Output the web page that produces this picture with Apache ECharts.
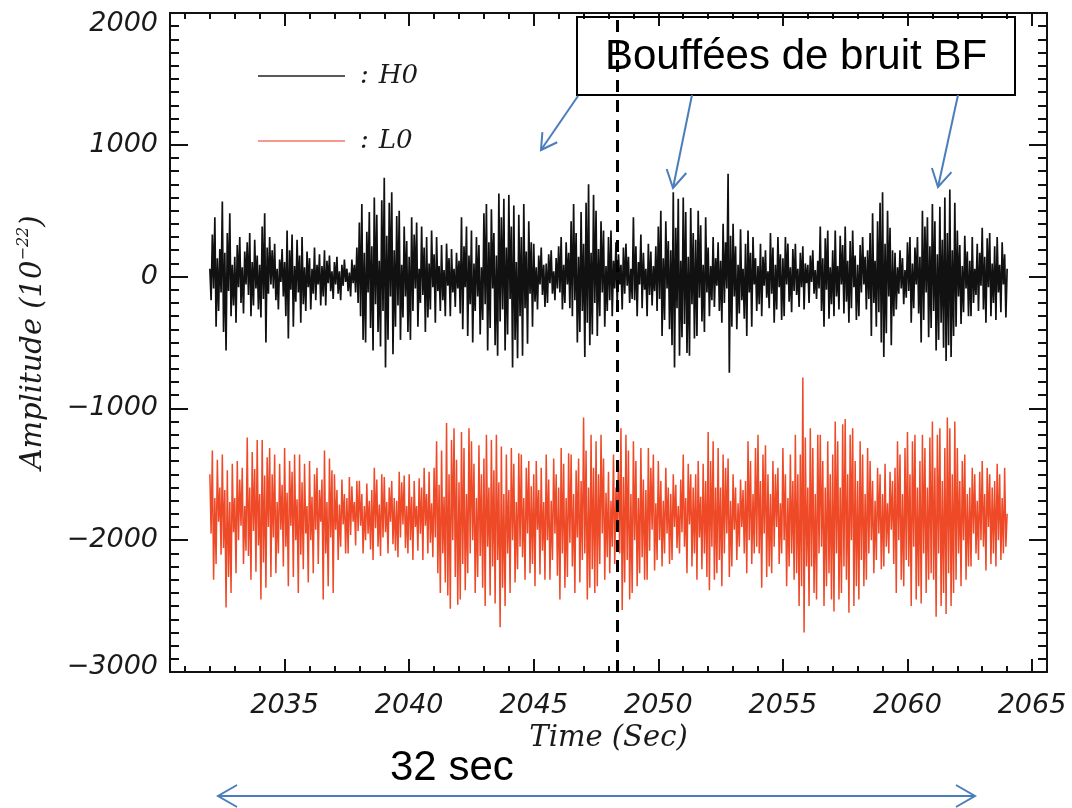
<!DOCTYPE html>
<html>
<head>
<meta charset="utf-8">
<script src="https://cdn.jsdelivr.net/npm/echarts@6/dist/echarts.min.js"></script>
<style>
  html, body { margin: 0; padding: 0; background: #fff; }
  #chart { width: 1072px; height: 808px; }
</style>
</head>
<body>
<div id="chart"></div>
<script>
// Sampling grid of both strain channels (seconds)
const T_START = 2032.0;
const DT = 0.05;

// H0 channel, amplitude in units of 1e-22, one line per second
const H0 = [
  60,-180,320,-90,450,-380,140,-260,210,-120, 570,-420,180,-560,330,-110,480,-300,90,-220,
  150,-350,240,-80,300,-200,70,-280,190,-60, 260,-140,330,-300,110,-220,280,-90,160,-250,
  90,-310,380,-170,480,-500,220,-130,300,-60, 200,-90,250,-180,60,-250,130,-40,210,-150,
  110,-300,350,-470,200,-100,320,-380,80,-190, 280,-120,160,-350,300,-210,70,-260,190,-80,
  140,-250,60,-130,220,-180,90,-60,170,-220, 80,-150,200,-220,120,-50,160,-110,40,-170,
  110,-60,150,-130,40,-180,90,-70,130,-40, 60,-110,30,-150,130,-50,90,-120,220,-200,
  410,-300,550,-480,180,-500,340,-120,490,-390, 230,-560,600,-210,470,-420,120,-530,580,-260,
  750,-690,310,-480,560,-150,640,-590,200,-380, 460,-220,500,-480,90,-310,380,-150,270,-420,
  150,-480,450,-260,320,-90,410,-380,60,-200, 380,-140,220,-420,300,-310,100,-250,350,-80,
  170,-350,300,-110,80,-260,240,-180,50,-300, 250,-70,140,-300,210,-120,60,-230,180,-90,
  120,-280,450,-400,230,-80,380,-450,160,-210, 350,-500,100,-260,300,-150,240,-440,70,-330,
  480,-210,550,-560,260,-390,510,-90,330,-520, 160,-600,630,-340,450,-250,590,-560,220,-440,
  620,-170,380,-690,540,-480,110,-620,470,-300, 300,-600,550,-240,190,-510,420,-130,260,-380,
  250,-190,70,-250,160,-60,220,-140,90,-230, 100,-200,170,-50,200,-130,40,-180,140,-90,
  230,-120,300,-250,90,-200,260,-60,180,-240, 420,-300,550,-180,330,-500,150,-420,490,-260,
  250,-610,560,-350,700,-520,180,-440,620,-200, 500,-450,210,-300,420,-120,350,-380,80,-260,
  300,-180,350,-300,120,-90,260,-220,170,-60, 90,-250,220,-130,250,-70,150,-200,60,-170,
  450,-180,230,-300,110,-60,320,-240,180,-100, 60,-300,250,-140,190,-220,80,-110,230,-260,
  380,-170,500,-450,140,-330,420,-90,270,-400, 200,-520,640,-690,370,-240,590,-600,120,-460,
  600,-360,490,-580,150,-600,520,-210,330,-470, 280,-450,500,-160,390,-340,90,-420,450,-120,
  220,-300,80,-180,300,-230,140,-70,260,-260, 120,-350,400,-200,260,-90,780,-730,310,-380,
  400,-150,230,-400,90,-280,360,-180,60,-320, 250,-450,350,-120,180,-380,300,-60,140,-260,
  80,-210,250,-300,150,-70,200,-160,40,-240, 330,-130,220,-350,90,-250,300,-80,170,-330,
  140,-300,300,-60,250,-190,70,-270,210,-110, 250,-140,60,-230,180,-80,230,-250,100,-50,
  90,-200,160,-40,200,-130,50,-170,120,-90, 380,-260,140,-380,290,-100,350,-320,70,-210,
  200,-300,350,-150,80,-250,310,-60,240,-280, 380,-190,120,-350,270,-240,350,-80,160,-330,
  90,-300,240,-120,300,-60,150,-250,200,-170, 330,-450,480,-200,120,-380,420,-270,560,-500,
  640,-610,250,-430,500,-150,370,-520,200,-300, 180,-250,70,-130,200,-90,140,-210,50,-160,
  260,-110,300,-350,100,-240,220,-60,300,-280, 150,-500,500,-330,380,-120,450,-460,230,-390,
  550,-260,420,-560,170,-480,530,-350,280,-540, 600,-640,330,-520,660,-610,200,-450,560,-380,
  350,-150,240,-360,80,-270,310,-90,190,-300, 120,-300,300,-200,60,-140,250,-260,180,-70,
  370,-250,150,-350,290,-80,330,-300,100,-200, 230,-330,300,-120,90,-270,260,-60,170,-310,
  60
];

// L0 channel, plotted shifted down around -1800, one line per second
const L0 = [
  -1500,-1950,-1320,-2300,-1680,-2180,-1390,-1860,-1600,-2110, -1350,-2060,-1620,-2510,-1470,-2280,-1710,-2400,-1420,-1940,
  -1680,-2250,-1400,-2000,-1540,-1890,-1450,-2180,-1740,-2080, -1220,-2120,-1600,-2300,-1330,-1930,-1460,-2240,-1240,-2040,
  -1650,-2450,-1240,-2170,-1510,-2360,-1370,-1900,-1300,-2280, -1500,-1980,-1350,-2250,-1710,-2100,-1420,-1920,-1580,-2200,
  -1300,-2050,-1640,-2350,-1400,-1890,-1480,-2280,-1350,-2000, -1690,-2400,-1350,-2110,-1560,-2220,-1420,-1950,-1740,-2320,
  -1400,-2000,-1670,-2250,-1500,-1920,-1450,-2180,-1620,-1860, -1540,-2450,-1320,-2100,-1710,-2350,-1380,-1980,-1470,-2400,
  -1500,-1920,-1620,-2150,-1730,-2050,-1540,-1880,-1650,-2100, -1680,-2100,-1520,-1960,-1590,-1860,-1710,-2040,-1550,-1930,
  -1550,-1890,-1650,-2100,-1740,-2000,-1570,-1950,-1700,-2070, -1620,-2150,-1450,-1910,-1540,-2050,-1730,-2120,-1500,-1980,
  -1520,-1940,-1710,-2100,-1600,-1860,-1550,-2030,-1680,-2080, -1700,-2130,-1480,-1980,-1560,-1880,-1510,-2060,-1740,-2100,
  -1500,-2000,-1670,-2150,-1550,-1900,-1740,-2080,-1530,-1950, -1600,-2150,-1450,-1890,-1650,-2100,-1480,-2020,-1720,-2130,
  -1450,-1980,-1250,-2250,-1580,-2400,-1320,-2100,-1670,-2320, -1110,-2420,-1500,-2520,-1240,-2000,-1150,-2280,-1390,-2490,
  -1560,-2450,-1180,-2180,-1300,-2380,-1650,-2250,-1150,-2100, -1250,-2000,-1420,-2400,-1680,-2280,-1280,-2120,-1500,-2360,
  -1380,-2500,-1200,-2050,-1600,-2420,-1240,-2200,-1470,-2480, -1200,-2150,-1560,-2660,-1290,-2360,-1650,-2500,-1350,-2100,
  -1620,-2400,-1300,-2000,-1420,-2320,-1710,-2220,-1340,-2050, -1350,-2130,-1680,-2300,-1450,-1950,-1400,-2250,-1590,-2180,
  -1500,-2350,-1400,-1920,-1620,-2260,-1450,-2080,-1710,-2300, -1350,-2000,-1540,-2300,-1700,-2150,-1380,-1950,-1500,-2270,
  -1600,-2450,-1300,-2100,-1420,-2360,-1680,-2280,-1340,-2020, -1350,-2200,-1650,-2400,-1470,-1980,-1380,-2320,-1550,-2150,
  -1070,-2100,-1320,-2450,-1600,-2360,-1200,-2220,-1450,-2400, -1250,-2350,-1500,-2180,-1200,-1950,-1380,-2300,-1640,-2130,
  -1480,-2250,-1700,-2050,-1350,-2180,-1600,-1920,-1400,-2100, -1150,-2530,-1520,-2320,-1200,-2150,-1320,-2450,-1650,-2400,
  -1250,-2000,-1400,-2350,-1680,-2250,-1300,-2130,-1540,-2300, -1620,-2300,-1300,-2080,-1450,-1920,-1350,-2230,-1720,-2150,
  -1400,-2000,-1550,-2200,-1700,-2100,-1450,-1950,-1600,-2180, -1650,-2150,-1500,-1900,-1580,-2060,-1740,-2100,-1540,-1940,
  -1350,-2050,-1680,-2250,-1420,-1880,-1500,-2200,-1600,-2100, -1500,-2300,-1400,-1980,-1670,-2220,-1420,-2100,-1550,-2280,
  -1180,-2380,-1400,-2050,-1250,-2300,-1600,-2250,-1300,-2150, -1600,-2350,-1350,-2100,-1450,-1950,-1380,-2280,-1700,-2200,
  -1500,-1920,-1600,-2150,-1720,-2050,-1540,-1900,-1620,-2100, -1550,-2250,-1250,-2000,-1400,-2180,-1650,-2100,-1300,-2050,
  -1200,-2100,-1550,-2360,-1350,-1950,-1280,-2280,-1500,-2200, -1650,-2250,-1400,-2050,-1500,-1900,-1450,-2180,-1720,-2100,
  -1300,-2000,-1500,-2350,-1680,-2200,-1350,-2100,-1550,-2300, -1200,-2250,-1500,-2500,-1350,-2350,-765,-2700,-1220,-2200,
  -1600,-2500,-1150,-2200,-1300,-2400,-1650,-2450,-1200,-2100, -1200,-2050,-1400,-2500,-1600,-2350,-1250,-2250,-1500,-2450,
  -1350,-2540,-1100,-2100,-1250,-2450,-1600,-2400,-1120,-2200, -1080,-2300,-1500,-2550,-1200,-2000,-1150,-2500,-1400,-2350,
  -1550,-2450,-1250,-2150,-1350,-2350,-1650,-2300,-1300,-2100, -1400,-2000,-1550,-2250,-1700,-2150,-1450,-1950,-1500,-2220,
  -1650,-2200,-1420,-2050,-1720,-2100,-1480,-1920,-1550,-2180, -1450,-2400,-1250,-2000,-1350,-2300,-1650,-2350,-1300,-2150,
  -1180,-2200,-1500,-2500,-1250,-2050,-1200,-2450,-1600,-2350, -1400,-2480,-1200,-2100,-1300,-2400,-1600,-2300,-1220,-2250,
  -1100,-2300,-1450,-2580,-1200,-2100,-1150,-2500,-1550,-2400, -1300,-2560,-1070,-2250,-1150,-2500,-1500,-2400,-1100,-2300,
  -1300,-2100,-1550,-2350,-1400,-2000,-1350,-2300,-1650,-2200, -1600,-2200,-1450,-1950,-1500,-2100,-1700,-2150,-1480,-2000,
  -1400,-2050,-1650,-2230,-1450,-1900,-1500,-2180,-1600,-2100, -1550,-2200,-1420,-2000,-1500,-2150,-1680,-2100,-1450,-2050,
  -1800
];

// Axis extents and tick values
const X_MIN = 2030.4;
const X_MAX = 2065.6;
const X_MAJOR = [2035, 2040, 2045, 2050, 2055, 2060, 2065];
const X_MINOR = [2031, 2032, 2033, 2034, 2036, 2037, 2038, 2039, 2041, 2042, 2043, 2044,
                 2046, 2047, 2048, 2049, 2051, 2052, 2053, 2054, 2056, 2057, 2058, 2059,
                 2061, 2062, 2063, 2064];
const Y_MIN = -3000;
const Y_MAX = 2000;
const Y_STEP = 1000;

// Time of the vertical dashed marker
const MARK_TIME = 2048.35;

const toPairs = vals => vals.map((v, i) => [Number((T_START + i * DT).toFixed(2)), v]);

const INK = '#111';
const BLUE = '#4a7ebb';
const tickFont = { fontFamily: 'DejaVu Sans', fontStyle: 'italic', fontSize: 27, color: '#1a1a1a' };
const titleFont = { fontFamily: 'DejaVu Serif', fontStyle: 'italic', fontSize: 29, color: '#1a1a1a' };
const frameLine = { color: INK, width: 2 };

function xAxisDef(position, ticks, len, withLine, withLabels) {
  const ax = {
    type: 'value', gridIndex: 0, position: position, min: X_MIN, max: X_MAX,
    axisLine: { show: withLine, onZero: false, lineStyle: frameLine },
    axisTick: { show: true, inside: true, length: len, customValues: ticks, lineStyle: frameLine },
    axisLabel: { show: false },
    splitLine: { show: false }
  };
  if (withLabels) {
    ax.axisLabel = Object.assign({
      show: true, customValues: ticks, margin: 20, hideOverlap: false,
      formatter: v => String(v)
    }, tickFont);
    ax.name = 'Time (Sec)';
    ax.nameLocation = 'middle';
    ax.nameGap = 52;
    ax.nameTextStyle = titleFont;
  }
  return ax;
}

function yAxisDef(position, withLabels) {
  const ax = {
    type: 'value', gridIndex: 0, position: position, min: Y_MIN, max: Y_MAX, interval: Y_STEP,
    axisLine: { show: true, onZero: false, lineStyle: frameLine },
    axisTick: { show: true, inside: true, length: 18, lineStyle: frameLine },
    minorTick: { show: true, splitNumber: 10, length: 9, lineStyle: frameLine },
    axisLabel: { show: false },
    splitLine: { show: false },
    minorSplitLine: { show: false }
  };
  if (withLabels) {
    ax.axisLabel = Object.assign({
      show: true, margin: 12, showMinLabel: true, showMaxLabel: true,
      formatter: v => {
        const s = String(v).replace('-', '\u2212');
        if (v === Y_MAX) return '{top|' + s + '}';
        if (v === Y_MIN) return '{bot|' + s + '}';
        return s;
      },
      rich: {
        top: Object.assign({ padding: [22, 0, 0, 0] }, tickFont),
        bot: Object.assign({ padding: [0, 0, 10, 0] }, tickFont)
      }
    }, tickFont);
    ax.name = '{n|Amplitude (10}{s|\u221222}{n|)}';
    ax.nameLocation = 'middle';
    ax.nameGap = 120;
    ax.nameRotate = 90;
    ax.nameTextStyle = Object.assign({
      rich: {
        n: Object.assign({ lineHeight: 34 }, titleFont),
        s: Object.assign({}, titleFont, { fontSize: 16, verticalAlign: 'top', lineHeight: 34 })
      }
    }, titleFont);
  }
  return ax;
}

// Arrow made of a shaft and open V heads
function arrow(x1, y1, x2, y2, head, both) {
  const dx = x2 - x1, dy = y2 - y1, L = Math.hypot(dx, dy);
  const ux = dx / L, uy = dy / L;
  const ang = Math.PI / 6, c = Math.cos(ang), s = Math.sin(ang);
  const stroke = { stroke: BLUE, lineWidth: 2, fill: 'none' };
  const parts = [{ type: 'line', z: 120, shape: { x1: x1, y1: y1, x2: x2, y2: y2 }, style: stroke }];
  const headAt = (px, py, bx, by) => ({
    type: 'polyline', z: 120,
    shape: { points: [
      [px + head * (c * bx - s * by), py + head * (s * bx + c * by)],
      [px, py],
      [px + head * (c * bx + s * by), py + head * (-s * bx + c * by)]
    ] },
    style: stroke
  });
  parts.push(headAt(x2, y2, -ux, -uy));
  if (both) parts.push(headAt(x1, y1, ux, uy));
  return parts;
}

const legendFont = Object.assign({}, titleFont, { fontSize: 26 });
const legendText = Object.assign({
  rich: {
    c: Object.assign({ padding: [0, 10, 0, 10] }, legendFont),
    n: Object.assign({}, legendFont)
  }
}, legendFont);

const legendDef = (name, top) => ({
  data: [name], left: 258, top: top, padding: 0, selectedMode: false,
  icon: 'rect', itemWidth: 87, itemHeight: 1.5,
  formatter: n => '{c|:}{n|' + n + '}',
  textStyle: legendText
});

const chart = echarts.init(document.getElementById('chart'), null, { renderer: 'canvas' });

chart.setOption({
  animation: false,
  backgroundColor: '#fff',
  grid: { left: 170, right: 25, top: 13, bottom: 136, outerBoundsMode: 'none' },
  legend: [legendDef('H0', 63), legendDef('L0', 128)],
  xAxis: [
    xAxisDef('bottom', X_MAJOR, 13, true, true),
    xAxisDef('bottom', X_MINOR, 6, false, false),
    xAxisDef('top', X_MAJOR, 13, true, false),
    xAxisDef('top', X_MINOR, 6, false, false)
  ],
  yAxis: [yAxisDef('left', true), yAxisDef('right', false)],
  series: [
    {
      name: 'H0', type: 'line', xAxisIndex: 0, yAxisIndex: 0,
      data: toPairs(H0), showSymbol: false, symbol: 'none', sampling: null,
      lineStyle: { color: '#111', width: 1.7 }, itemStyle: { color: '#222' },
      markLine: {
        silent: true, symbol: ['none', 'none'], label: { show: false },
        lineStyle: { color: '#000', width: 3, type: [12, 8] },
        data: [{ xAxis: MARK_TIME }]
      },
      z: 3
    },
    {
      name: 'L0', type: 'line', xAxisIndex: 0, yAxisIndex: 0,
      data: toPairs(L0), showSymbol: false, symbol: 'none', sampling: null,
      lineStyle: { color: '#ee4a28', width: 1.5 }, itemStyle: { color: '#f07a6a' },
      z: 2
    }
  ],
  graphic: [
    { type: 'rect', z: 110, shape: { x: 577, y: 17, width: 438, height: 78 },
      style: { fill: 'none', stroke: '#000', lineWidth: 2 } },
    { type: 'text', z: 111, x: 796, y: 57,
      style: { text: 'Bouffées de bruit BF', fontFamily: 'Liberation Sans', fontSize: 42,
               fill: '#000', align: 'center', verticalAlign: 'middle' } },
    ...arrow(578, 96, 541, 150, 18, false),
    ...arrow(692, 95, 673, 188, 20, false),
    ...arrow(958, 95, 938, 187, 20, false),
    { type: 'text', z: 111, x: 390, y: 768,
      style: { text: '32 sec', fontFamily: 'Liberation Sans', fontSize: 42,
               fill: '#000', align: 'left', verticalAlign: 'middle' } },
    ...arrow(218, 796, 975, 796, 22, true)
  ]
});
</script>
</body>
</html>
